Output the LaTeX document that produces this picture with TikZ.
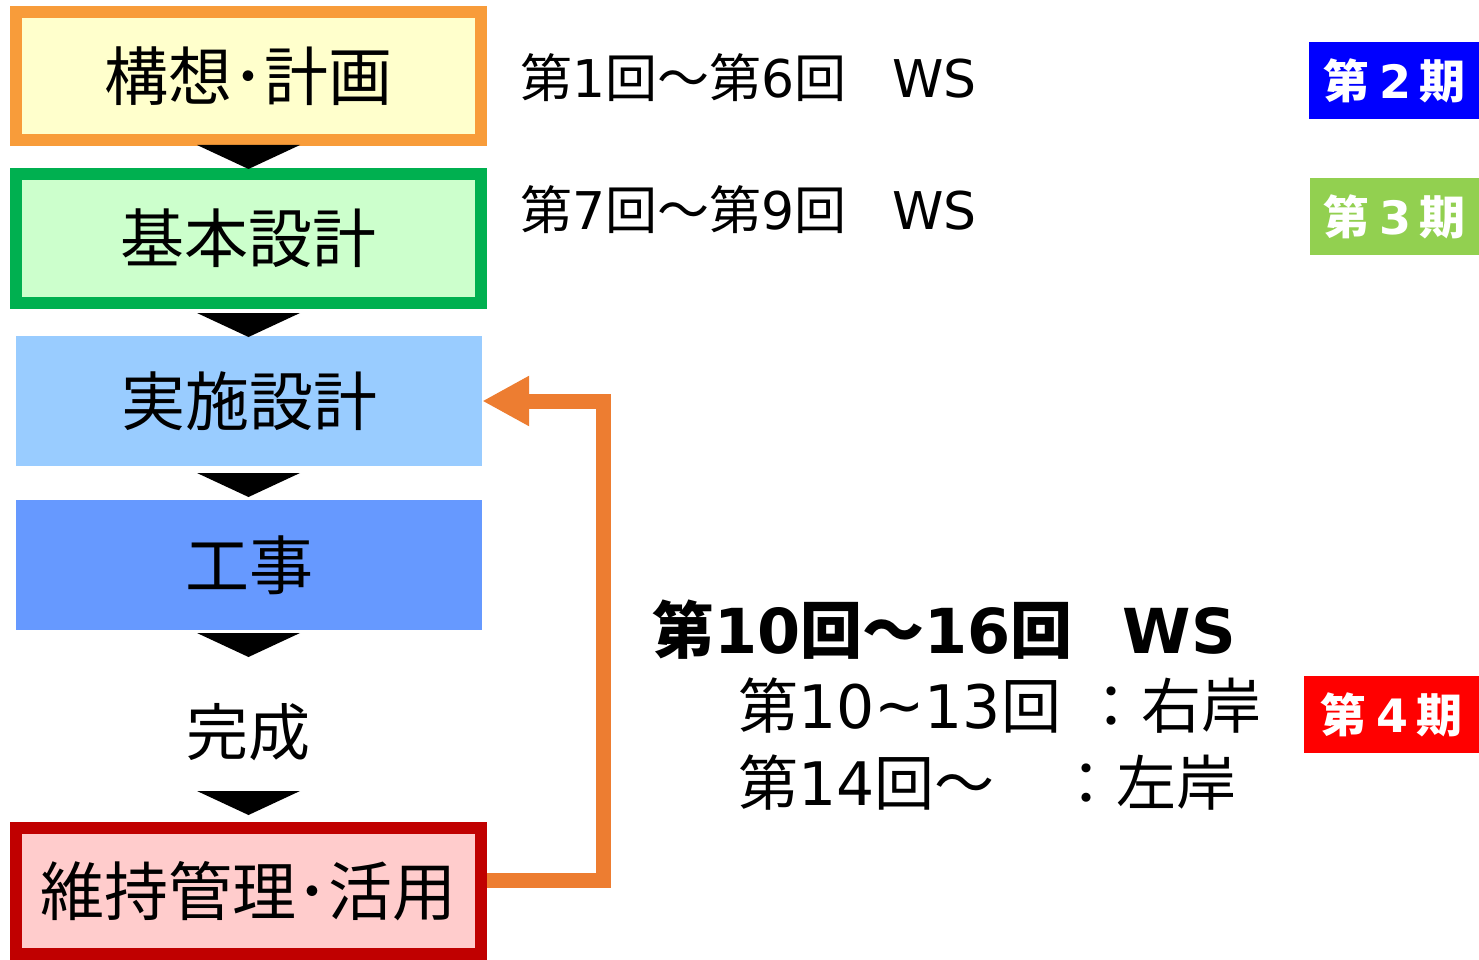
\documentclass[tikz,border=0pt]{standalone}
\usepackage{fontspec}
\setmainfont{Noto Sans CJK JP}
\newfontfamily\lat{DejaVu Sans}
\newcommand\lt[1]{{\lat #1}}
\usetikzlibrary{arrows.meta}
\definecolor{borderOrange}{HTML}{F89C3A}
\definecolor{fillYellow}{HTML}{FFFFCC}
\definecolor{borderGreen}{HTML}{00B050}
\definecolor{fillGreen}{HTML}{CCFFCC}
\definecolor{fillLightBlue}{HTML}{99CCFF}
\definecolor{fillBlue}{HTML}{6699FF}
\definecolor{borderRed}{HTML}{C00000}
\definecolor{fillPink}{HTML}{FFCCCC}
\definecolor{loopOrange}{HTML}{ED7D31}
\definecolor{badgeBlue}{HTML}{0000FF}
\definecolor{badgeGreen}{HTML}{92D050}
\definecolor{badgeRed}{HTML}{FF0000}
\begin{document}
\begin{tikzpicture}[x=1pt,y=-1pt,
  stage/.style={rectangle, minimum width=465pt, minimum height=128pt, inner sep=0pt,
    font=\fontsize{64}{70}\selectfont},
  framed/.style={line width=12pt},
  downtri/.style={fill=black},
  wsline/.style={anchor=west, inner sep=0pt, font=\fontsize{52}{60}\selectfont},
  wsbig/.style={anchor=west, inner sep=0pt, font=\fontsize{62}{70}\selectfont\bfseries},
  wssub/.style={anchor=west, inner sep=0pt, font=\fontsize{60}{70}\selectfont},
  badge/.style={rectangle, inner sep=0pt, text=white, minimum height=77pt,
    font=\fontsize{46}{50}\selectfont\bfseries},
  loop/.style={draw=loopOrange, line width=15pt, -{Triangle[length=47pt,width=47pt]}}]
\useasboundingbox (0,0) rectangle (1479,960);

% stages
\node[stage, framed, draw=borderOrange, fill=fillYellow] (b1) at (248.5,76) {構想･計画};
\node[stage, framed, draw=borderGreen, fill=fillGreen, minimum height=129pt] (b2) at (248.5,238.5) {基本設計};
\node[stage, fill=fillLightBlue, minimum width=466pt, minimum height=130pt] (b3) at (249,401) {実施設計};
\node[stage, fill=fillBlue, minimum width=466pt, minimum height=130pt] (b4) at (249,565) {工事};
\node[inner sep=0pt, font=\fontsize{62}{70}\selectfont] (b5a) at (248.5,732) {完成};
\node[stage, framed, draw=borderRed, fill=fillPink, minimum height=126pt] (b6) at (248.5,891) {維持管理･活用};

% down triangles
\coordinate (t1) at (248.5,145);
\coordinate (t2) at (248.5,313);
\coordinate (t3) at (248.5,473);
\coordinate (t4) at (248.5,633);
\coordinate (t5) at (248.5,791);
\foreach \t in {t1,t2,t3,t4,t5}
  \fill[downtri] (\t) ++(-51.5,0) -- ++(103,0) -- ++(-51.5,24) -- cycle;

% feedback loop
\draw[loop] ([yshift=11pt]b6.east) -| (603,401) -- (b3.east);

% workshop texts
\node[wsline] (ws1) at (520,78) {第\lt{1}回～第\lt{6}回\hspace{46pt}\lt{WS}};
\node[wsline] (ws2) at (520,210) {第\lt{7}回～第\lt{9}回\hspace{46pt}\lt{WS}};
\node[wsbig] (ws3) at (652,630) {第\lt{10}回～\lt{16}回\hspace{50pt}\lt{WS}};
\node[wssub] (ws4) at (738,706) {第\lt{10\raisebox{2pt}{\char"007E}13}回\hspace{20pt}：右岸};
\node[wssub] (ws5) at (738,783) {第\lt{14}回～\hspace{62pt}：左岸};

% badges
\node[badge, fill=badgeBlue, minimum width=170pt] (p2) at (1394,81) {第\hspace{10pt}\lt{2}\hspace{8pt}期};
\node[badge, fill=badgeGreen, minimum width=169pt] (p3) at (1394.5,216.5) {第\hspace{10pt}\lt{3}\hspace{8pt}期};
\node[badge, fill=badgeRed, minimum width=175pt] (p4) at (1391.5,714.5) {第\hspace{10pt}\lt{4}\hspace{8pt}期};
\end{tikzpicture}
\end{document}
